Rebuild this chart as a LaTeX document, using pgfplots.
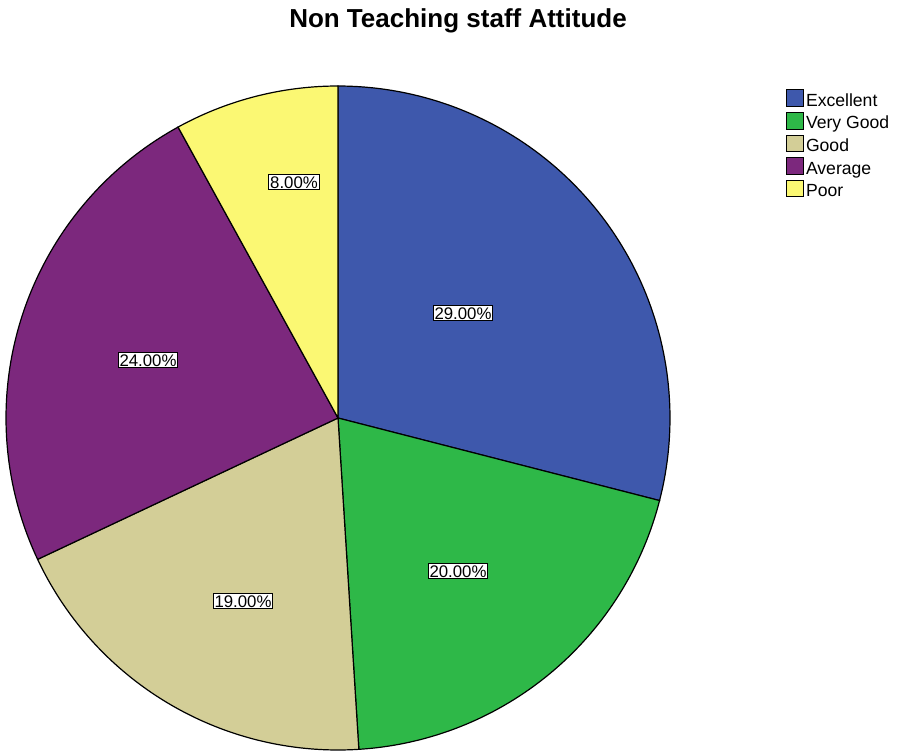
\documentclass[border=0pt]{standalone}
\usepackage{fontspec}
\setmainfont{Liberation Sans}
\usepackage{pgfplots}
\pgfplotsset{compat=1.18}
\definecolor{cExc}{HTML}{3E58AC}
\definecolor{cVG}{HTML}{2EB848}
\definecolor{cGood}{HTML}{D3CE97}
\definecolor{cAvg}{HTML}{7C287D}
\definecolor{cPoor}{HTML}{FBF873}
\begin{document}
\begin{tikzpicture}
\begin{axis}[
  scale only axis, width=449.5pt, height=375pt,
  xmin=0, xmax=899, ymin=0, ymax=750,
  hide axis, clip=false,
  legend image code/.code={\draw[#1,draw=black,line width=0.5pt] (0pt,-3.1pt) rectangle (8.3pt,5.2pt);},
  legend cell align=left,
  legend style={draw=none, fill=none, inner sep=0pt, at={(axis cs:786,661)}, anchor=north west,
     font=\fontsize{8.8}{8.8}\selectfont, row sep=2.3pt,
     nodes={inner xsep=1pt, inner ysep=0pt, text height=6.6pt, text depth=0.5pt}},
]
\addplot[fill=cExc, draw=black, line width=0.6pt, domain={90-3.6*29}:{90}, samples=90, variable=\t]
  ({338+332*cos(\t)},{332+332*sin(\t)}) -- (axis cs:338,332) -- cycle;
\addplot[fill=cVG, draw=black, line width=0.6pt, domain={90-3.6*(29+20)}:{90-3.6*29}, samples=90, variable=\t]
  ({338+332*cos(\t)},{332+332*sin(\t)}) -- (axis cs:338,332) -- cycle;
\addplot[fill=cGood, draw=black, line width=0.6pt, domain={90-3.6*(29+20+19)}:{90-3.6*(29+20)}, samples=90, variable=\t]
  ({338+332*cos(\t)},{332+332*sin(\t)}) -- (axis cs:338,332) -- cycle;
\addplot[fill=cAvg, draw=black, line width=0.6pt, domain={90-3.6*(29+20+19+24)}:{90-3.6*(29+20+19)}, samples=90, variable=\t]
  ({338+332*cos(\t)},{332+332*sin(\t)}) -- (axis cs:338,332) -- cycle;
\addplot[fill=cPoor, draw=black, line width=0.6pt, domain={90-3.6*(29+20+19+24+8)}:{90-3.6*(29+20+19+24)}, samples=90, variable=\t]
  ({338+332*cos(\t)},{332+332*sin(\t)}) -- (axis cs:338,332) -- cycle;
\legend{Excellent, Very Good, Good, Average, Poor}
\tikzset{lbl/.style={draw=black, fill=white, line width=0.5pt, inner xsep=0.6pt, inner ysep=0.8pt,
   text height=6.2pt, text depth=0pt, font=\fontsize{8.4}{8.4}\selectfont}}
\node[lbl] at (axis cs:463,437) {29.00\%};
\node[lbl] at (axis cs:458,179) {20.00\%};
\node[lbl] at (axis cs:243,149) {19.00\%};
\node[lbl] at (axis cs:148,390) {24.00\%};
\node[lbl] at (axis cs:294,568) {8.00\%};
\node[font=\fontsize{13}{13}\selectfont\bfseries] at (axis cs:458,729) {Non Teaching staff Attitude};
\end{axis}
\pgfresetboundingbox
\path[use as bounding box] (0,0) rectangle (449.5pt,375pt);
\end{tikzpicture}
\end{document}
